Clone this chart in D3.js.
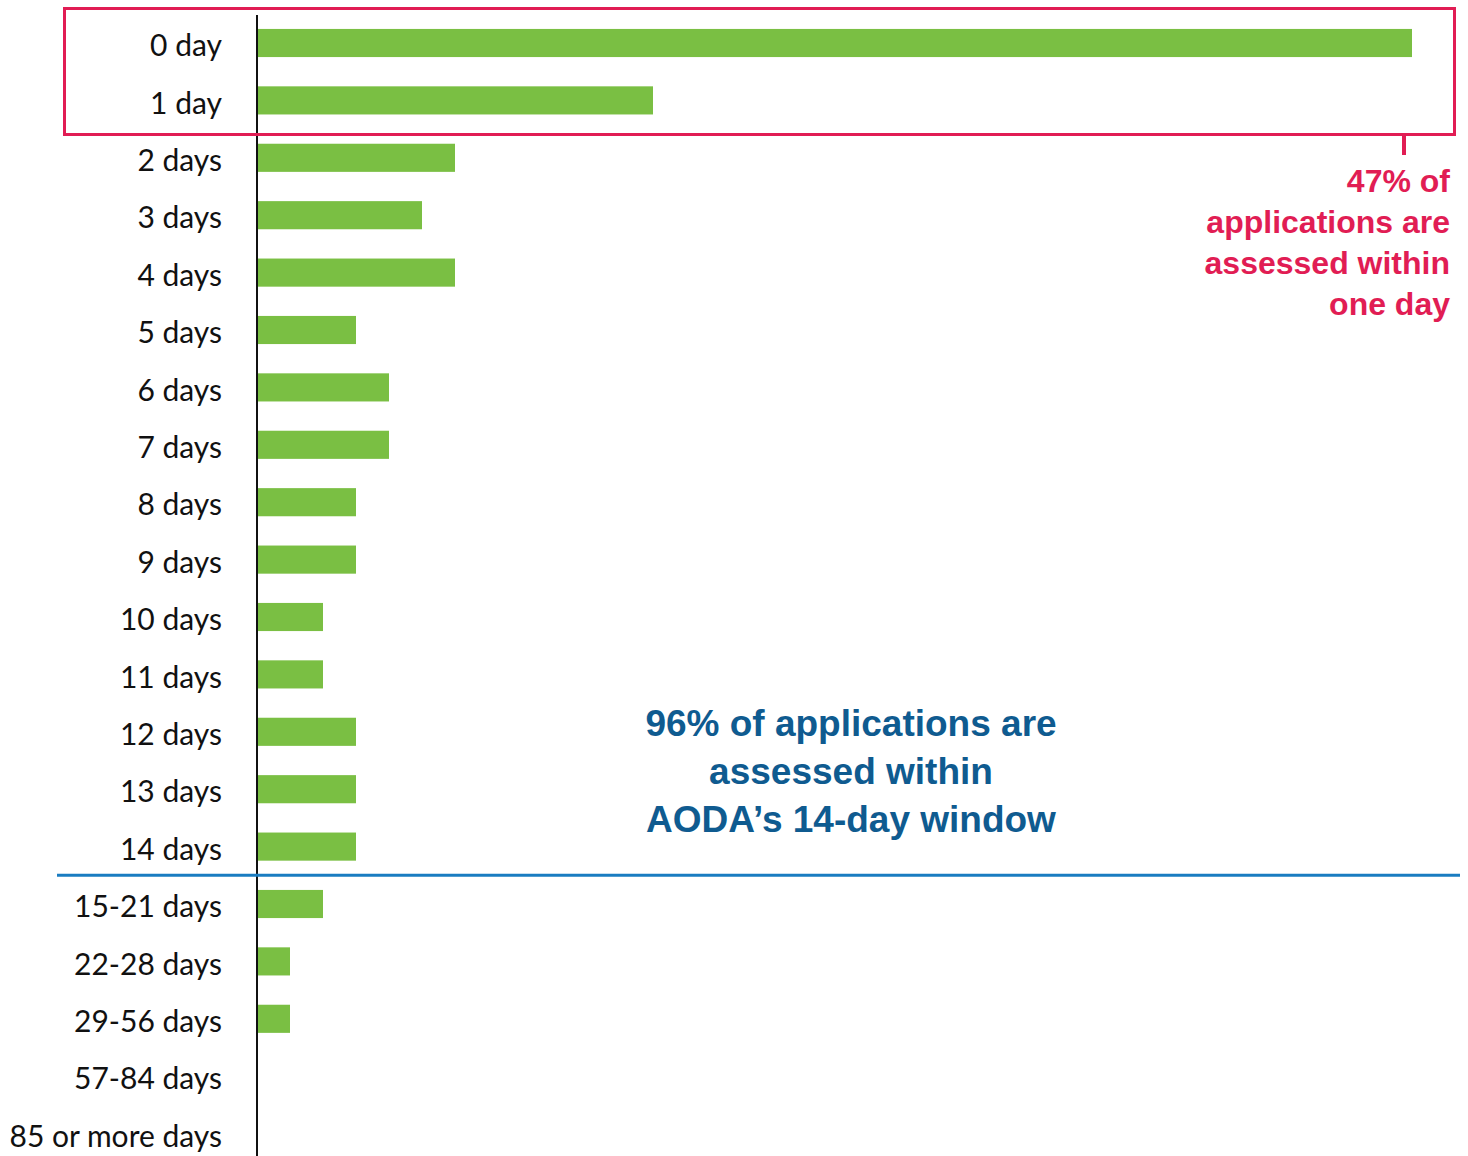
<!DOCTYPE html>
<html>
<head>
<meta charset="utf-8">
<script src="https://cdn.jsdelivr.net/npm/d3@7"></script>
<style>
  html, body { margin: 0; padding: 0; background: #fff; }
  svg { display: block; }
</style>
</head>
<body>
<svg id="chart" width="1468" height="1156"></svg>
<script>
// ---- data ----
const categories = ["0 day", "1 day", "2 days", "3 days", "4 days", "5 days", "6 days", "7 days",
  "8 days", "9 days", "10 days", "11 days", "12 days", "13 days", "14 days",
  "15-21 days", "22-28 days", "29-56 days", "57-84 days", "85 or more days"];
const shares = [35, 12, 6, 5, 6, 3, 4, 4, 3, 3, 2, 2, 3, 3, 3, 2, 1, 1, 0, 0];
const redNote = ["47% of", "applications are", "assessed within", "one day"];
const blueNote = ["96% of applications are", "assessed within", "AODA\u2019s 14-day window"];

// ---- layout ----
const W = 1468, H = 1156;
const axisX = 257;
const svg = d3.select("#chart");

const x = d3.scaleLinear().domain([0, 35]).range([axisX, 1412]);
const y = d3.scaleBand().domain(categories).range([14.3, 1162.3])
  .paddingInner(0.51).paddingOuter(0.255);

const green = "#7ABF43", red = "#E11D54", blueLine = "#1A7CC1", blueText = "#0F5B90";

// bars
svg.append("g").selectAll("rect").data(categories).join("rect")
  .attr("x", x(0))
  .attr("y", d => y(d))
  .attr("width", (d, i) => x(shares[i]) - x(0))
  .attr("height", y.bandwidth())
  .attr("fill", green);

// category labels
svg.append("g").selectAll("text").data(categories).join("text")
  .attr("x", 222)
  .attr("y", d => y(d) + y.bandwidth() / 2)
  .attr("dy", "0.44em")
  .attr("text-anchor", "end")
  .attr("font-family", "Lato, sans-serif")
  .attr("font-size", 30)
  .attr("fill", "#111")
  .text(d => d);

// vertical axis line
svg.append("line")
  .attr("x1", axisX).attr("x2", axisX)
  .attr("y1", 15).attr("y2", H)
  .attr("stroke", "#111").attr("stroke-width", 2);

// 14-day boundary line
const boundaryY = (y("14 days") + y.bandwidth() + y("15-21 days")) / 2;
svg.append("line")
  .attr("x1", 57).attr("x2", 1460)
  .attr("y1", boundaryY).attr("y2", boundaryY)
  .attr("stroke", blueLine).attr("stroke-width", 3);

// red highlight box around first two rows
const boxTop = 8.5, boxBottom = 134.5;
svg.append("rect")
  .attr("x", 64.5).attr("y", boxTop)
  .attr("width", 1454.5 - 64.5).attr("height", boxBottom - boxTop)
  .attr("fill", "none").attr("stroke", red).attr("stroke-width", 3);
svg.append("line")
  .attr("x1", 1404).attr("x2", 1404)
  .attr("y1", boxBottom).attr("y2", 155)
  .attr("stroke", red).attr("stroke-width", 4);

// red note
svg.append("text")
  .attr("text-anchor", "end")
  .attr("font-family", "'Liberation Sans', Arial, sans-serif")
  .attr("font-weight", "bold")
  .attr("font-size", 32)
  .attr("fill", red)
  .selectAll("tspan").data(redNote).join("tspan")
  .attr("x", 1450)
  .attr("y", (d, i) => 191.5 + i * 41)
  .text(d => d);

// blue note
svg.append("text")
  .attr("text-anchor", "middle")
  .attr("font-family", "'Liberation Sans', Arial, sans-serif")
  .attr("font-weight", "bold")
  .attr("font-size", 37)
  .attr("fill", blueText)
  .selectAll("tspan").data(blueNote).join("tspan")
  .attr("x", 851)
  .attr("y", (d, i) => 736 + i * 48)
  .text(d => d);
</script>
</body>
</html>
